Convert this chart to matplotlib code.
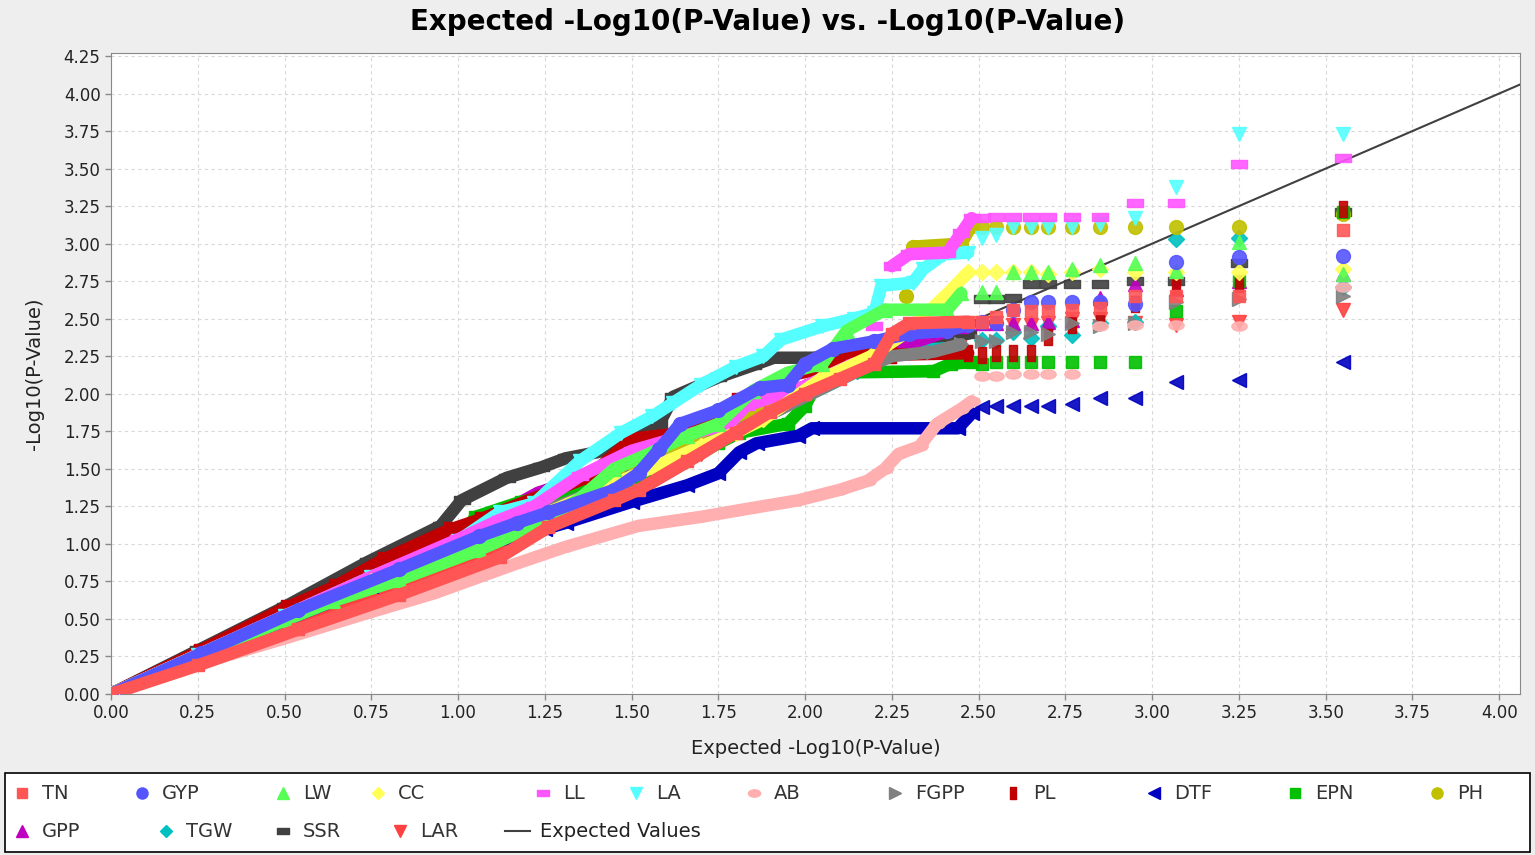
import numpy as np
import matplotlib
matplotlib.use("Agg")
import matplotlib.pyplot as plt
from matplotlib.path import Path
from matplotlib.transforms import Affine2D
from matplotlib.lines import Line2D
from matplotlib.patches import Rectangle

plt.rcParams['font.family'] = ['DejaVu Sans']

nan = np.nan

# expected -log10(p) of the top ranks (discrete points at the right)
tail_x = [3.55, 3.25, 3.07, 2.95, 2.85, 2.77, 2.70, 2.65, 2.60, 2.55, 2.51]

# dense part of each trait, plus top-rank values
tn_x = [0, .25, .54, .83, 1.12, 1.26, 1.45, 1.52, 1.66, 1.80, 1.90, 2.00, 2.10, 2.20, 2.25, 2.30, 2.47]
tn_y = [0, .19, .43, .66, .91, 1.11, 1.29, 1.36, 1.55, 1.74, 1.88, 2.00, 2.10, 2.20, 2.40, 2.47, 2.48]
tn_tail = [3.09, 2.65, 2.65, 2.65, 2.57, 2.56, 2.55, 2.55, 2.56, 2.51, 2.48]

gyp_x = [0, .26, .54, .83, 1.06, 1.17, 1.26, 1.45, 1.52, 1.58, 1.64, 1.75, 1.87, 1.95, 2.00, 2.08, 2.20, 2.30, 2.41, 2.47]
gyp_y = [0, .27, .56, .83, 1.05, 1.14, 1.21, 1.36, 1.47, 1.63, 1.80, 1.89, 2.04, 2.06, 2.20, 2.30, 2.35, 2.40, 2.42, 2.46]
gyp_tail = [2.92, 2.91, 2.88, 2.60, 2.61, 2.61, 2.61, 2.61, 2.56, 2.47, 2.48]

lw_x = [0, .25, .50, .64, .83, 1.06, 1.21, 1.35, 1.45, 1.55, 1.66, 1.75, 1.85, 1.95, 2.05, 2.12, 2.23, 2.41, 2.45]
lw_y = [0, .25, .49, .62, .76, .96, 1.11, 1.30, 1.50, 1.60, 1.72, 1.80, 2.02, 2.14, 2.20, 2.42, 2.56, 2.56, 2.67]
lw_tail = [2.80, 3.01, 2.82, 2.87, 2.86, 2.83, 2.81, 2.81, 2.81, 2.68, 2.68]

cc_x = [0, .25, .50, .75, 1.00, 1.25, 1.45, 1.56, 1.70, 1.80, 1.88, 2.04, 2.19, 2.30, 2.42, 2.47]
cc_y = [0, .26, .51, .75, .97, 1.20, 1.40, 1.51, 1.65, 1.74, 1.83, 2.09, 2.25, 2.42, 2.69, 2.81]
cc_tail = [2.83, 2.81, 2.81, 2.81, 2.83, 2.81, 2.80, 2.81, 2.81, 2.81, 2.81]

ll_x = [0, .25, .50, .75, 1.00, 1.12, 1.22, 1.35, 1.50, 1.65, 1.78, 1.83, 2.00, 2.14, nan, 2.20, nan, 2.25, 2.30, 2.41, 2.45, 2.48]
ll_y = [0, .26, .52, .78, 1.03, 1.16, 1.25, 1.45, 1.62, 1.72, 1.80, 1.92, 2.05, 2.20, nan, 2.45, nan, 2.85, 2.93, 2.94, 3.07, 3.17]
ll_tail = [3.57, 3.53, 3.27, 3.27, 3.18, 3.18, 3.18, 3.18, 3.18, 3.18, 3.17]

la_x = [0, .25, .50, .75, 1.00, 1.12, 1.22, 1.35, 1.47, 1.56, 1.62, 1.70, 1.80, 1.88, 1.93, 2.05, 2.14, 2.20, 2.22, 2.31, 2.34, 2.40, 2.47]
la_y = [0, .26, .52, .78, 1.02, 1.21, 1.27, 1.55, 1.74, 1.85, 1.94, 2.06, 2.18, 2.25, 2.36, 2.45, 2.50, 2.54, 2.72, 2.74, 2.83, 2.93, 2.94]
la_tail = [3.73, 3.73, 3.38, 3.17, 3.13, 3.11, 3.11, 3.11, 3.11, 3.06, 3.04]

ab_x = [0, .25, .50, .74, .93, 1.17, 1.31, 1.52, 1.70, 1.85, 1.98, 2.10, 2.18, 2.23, 2.27, 2.33, 2.38, 2.45, 2.48]
ab_y = [0, .20, .37, .54, .67, .87, .98, 1.12, 1.18, 1.24, 1.29, 1.36, 1.42, 1.50, 1.60, 1.65, 1.80, 1.90, 1.95]
ab_tail = [2.71, 2.45, 2.46, 2.46, 2.45, 2.13, 2.13, 2.13, 2.13, 2.12, 2.12]

fgpp_x = [0, .50, 1.00, 1.50, 1.80, 2.00, 2.15, 2.25, 2.37, 2.45]
fgpp_y = [0, .50, .98, 1.45, 1.75, 1.98, 2.15, 2.25, 2.28, 2.33]
fgpp_tail = [2.65, 2.63, 2.61, 2.47, 2.45, 2.47, 2.40, 2.41, 2.41, 2.35, 2.35]

pl_x = [0, .25, .50, .64, .78, .97, 1.06, 1.38, 1.50, 1.65, 1.80, 1.95, 2.05, 2.15, 2.25, 2.47]
pl_y = [0, .28, .57, .71, .89, 1.09, 1.16, 1.45, 1.70, 1.74, 1.95, 2.12, 2.17, 2.26, 2.26, 2.27]
pl_tail = [3.23, 2.73, 2.71, 2.60, 2.49, 2.46, 2.38, 2.27, 2.27, 2.27, 2.26]

dtf_x = [0, .25, .50, .75, 1.00, 1.25, 1.31, 1.50, 1.66, 1.75, 1.81, 1.86, 1.98, 2.02, 2.44, 2.48]
dtf_y = [0, .24, .49, .72, .95, 1.10, 1.14, 1.28, 1.39, 1.47, 1.61, 1.67, 1.72, 1.77, 1.77, 1.87]
dtf_tail = [2.21, 2.09, 2.08, 1.97, 1.97, 1.93, 1.92, 1.92, 1.92, 1.92, 1.91]

epn_x = [0, .25, .50, .75, 1.00, 1.05, 1.18, 1.30, 1.50, 1.65, 1.75, 1.81, 1.95, 2.00, 2.05, 2.37, 2.42, 2.48]
epn_y = [0, .26, .51, .76, 1.02, 1.18, 1.28, 1.33, 1.42, 1.55, 1.67, 1.74, 1.80, 1.92, 2.14, 2.15, 2.20, 2.21]
epn_tail = [3.21, 2.75, 2.55, 2.21, 2.21, 2.21, 2.21, 2.21, 2.21, 2.21, 2.20]

ph_x = [0, .50, 1.00, 1.50, 1.80, 2.00, 2.20, nan, 2.29, nan, 2.31, 2.45, 2.48]
ph_y = [0, .50, 1.00, 1.50, 1.82, 2.02, 2.25, nan, 2.65, nan, 2.98, 3.00, 3.12]
ph_tail = [3.20, 3.11, 3.11, 3.11, 3.11, 3.11, 3.11, 3.11, 3.11, 3.11, 3.11]

gpp_x = [0, .50, 1.00, 1.23, 1.50, 1.80, 2.00, 2.20, 2.45]
gpp_y = [0, .50, 1.05, 1.34, 1.55, 1.85, 2.05, 2.25, 2.45]
gpp_tail = [2.80, 2.75, 2.70, 2.73, 2.64, 2.49, 2.48, 2.47, 2.47, 2.47, 2.47]

tgw_x = [0, .50, 1.00, 1.50, 1.80, 2.00, 2.15, 2.25, 2.45]
tgw_y = [0, .50, .98, 1.45, 1.75, 1.98, 2.15, 2.28, 2.31]
tgw_tail = [2.71, 3.04, 3.03, 2.48, 2.47, 2.39, 2.45, 2.37, 2.41, 2.36, 2.36]

ssr_x = [0, .25, .50, .74, .95, 1.01, 1.14, 1.24, 1.31, 1.40, 1.50, 1.58, 1.62, 1.75, 1.85, 1.91, 2.02, 2.16, 2.21, 2.37, 2.40, 2.47]
ssr_y = [0, .29, .58, .88, 1.12, 1.29, 1.44, 1.51, 1.57, 1.61, 1.68, 1.80, 1.98, 2.11, 2.19, 2.24, 2.24, 2.25, 2.29, 2.30, 2.39, 2.40]
ssr_tail = [3.21, 2.87, 2.75, 2.75, 2.73, 2.73, 2.73, 2.73, 2.64, 2.63, 2.63]

lar_x = [0, .25, .54, .83, 1.12, 1.30, 1.50, 1.70, 1.85, 2.00, 2.15, 2.27, 2.45]
lar_y = [0, .22, .47, .70, .95, 1.15, 1.33, 1.60, 1.82, 2.02, 2.17, 2.33, 2.36]
lar_tail = [2.56, 2.48, 2.46, 2.47, 2.50, 2.50, 2.47, 2.46, 2.46, 2.47, 2.47]

exp_x = [0, 4.06]
exp_y = [0, 4.06]

names = ['TN', 'GYP', 'LW', 'CC', 'LL', 'LA', 'AB', 'FGPP', 'PL', 'DTF',
         'EPN', 'PH', 'GPP', 'TGW', 'SSR', 'LAR']

# marker shapes
hrect = Path([(-1, -0.5), (1, -0.5), (1, 0.5), (-1, 0.5), (-1, -0.5)],
             [Path.MOVETO, Path.LINETO, Path.LINETO, Path.LINETO, Path.CLOSEPOLY])
vrect = Path([(-0.5, -1), (0.5, -1), (0.5, 1), (-0.5, 1), (-0.5, -1)],
             [Path.MOVETO, Path.LINETO, Path.LINETO, Path.LINETO, Path.CLOSEPOLY])
ellipse = Path.unit_circle().transformed(Affine2D().scale(1.0, 0.6))

series = [
    (tn_x, tn_y, tn_tail, '#FF5555', 's', 9),
    (gyp_x, gyp_y, gyp_tail, '#5555FF', 'o', 10),
    (lw_x, lw_y, lw_tail, '#55FF55', '^', 10),
    (cc_x, cc_y, cc_tail, '#FFFF55', 'D', 8),
    (ll_x, ll_y, ll_tail, '#FF55FF', hrect, 11),
    (la_x, la_y, la_tail, '#55FFFF', 'v', 10),
    (ab_x, ab_y, ab_tail, '#FFAFAF', ellipse, 11),
    (fgpp_x, fgpp_y, fgpp_tail, '#808080', '>', 10),
    (pl_x, pl_y, pl_tail, '#C00000', vrect, 11),
    (dtf_x, dtf_y, dtf_tail, '#0000C0', '<', 10),
    (epn_x, epn_y, epn_tail, '#00C000', 's', 9),
    (ph_x, ph_y, ph_tail, '#C0C000', 'o', 10),
    (gpp_x, gpp_y, gpp_tail, '#C000C0', '^', 10),
    (tgw_x, tgw_y, tgw_tail, '#00C0C0', 'D', 8),
    (ssr_x, ssr_y, ssr_tail, '#404040', hrect, 11),
    (lar_x, lar_y, lar_tail, '#FF4040', 'v', 10),
]

fig = plt.figure(figsize=(15.35, 8.55), dpi=100)
fig.patch.set_facecolor('#eeeeee')
ax = fig.add_axes([111 / 1535, 1 - 694 / 855, 1409 / 1535, 641 / 855])
ax.set_facecolor('white')

for i, (dx, dy, tail, col, mk, ms) in enumerate(series):
    z = 40 - i
    ax.plot(dx, dy, '-', color=col, lw=9, solid_capstyle='round', zorder=z)
    ax.plot(dx, dy, linestyle='none', marker=mk, ms=ms, color=col, mec=col, zorder=z)
    ax.plot(tail_x, tail, linestyle='none', marker=mk, ms=ms, color=col,
            mec=col, alpha=0.9, zorder=z)

# expected values line sits under the points
ax.plot(exp_x, exp_y, color='#404040', lw=1.5, zorder=5)

ax.set_xlim(0, 4.06)
ax.set_ylim(0, 4.27)
ax.set_xticks(np.arange(0, 4.01, 0.25))
ax.set_yticks(np.arange(0, 4.26, 0.25))
ax.xaxis.set_major_formatter(matplotlib.ticker.FormatStrFormatter('%.2f'))
ax.yaxis.set_major_formatter(matplotlib.ticker.FormatStrFormatter('%.2f'))
ax.tick_params(labelsize=12, labelcolor='#222222', color='#888888', length=4, width=1)
for s in ax.spines.values():
    s.set_color('#888888')
ax.grid(True, color='#d8d8d8', linestyle=(0, (3, 3)), lw=0.8)
ax.set_axisbelow(True)

ax.set_xlabel('Expected -Log10(P-Value)', fontsize=14, color='#222222', labelpad=12)
ax.set_ylabel('-Log10(P-Value)', fontsize=14, color='#222222', labelpad=14)
fig.text(0.5, 1 - 22 / 855, 'Expected -Log10(P-Value) vs. -Log10(P-Value)',
         ha='center', va='center', fontsize=20, fontweight='bold')

# legend box drawn by hand so the two rows flow like the original
fig.add_artist(Rectangle((5 / 1535, 1 - 852 / 855), 1525 / 1535, 79 / 855,
                         transform=fig.transFigure, facecolor='white',
                         edgecolor='black', lw=1.2))
leg_rows = [
    (793, [(0, 22), (1, 142), (2, 283), (3, 378), (4, 543), (5, 636), (6, 754),
           (7, 895), (8, 1013), (9, 1154), (10, 1295), (11, 1437)]),
    (831, [(12, 22), (13, 166), (14, 283), (15, 400)]),
]
for ypx, items in leg_rows:
    yf = 1 - ypx / 855
    for idx, xpx in items:
        col, mk, ms = series[idx][3], series[idx][4], series[idx][5]
        fig.add_artist(Line2D([xpx / 1535], [yf], marker=mk, ms=ms * 0.8, color=col,
                              mec=col, linestyle='none', transform=fig.transFigure))
        fig.text((xpx + 20) / 1535, yf, names[idx], fontsize=14, color='#333333',
                 va='center', ha='left')
yf = 1 - 831 / 855
fig.add_artist(Line2D([505 / 1535, 530 / 1535], [yf, yf], color='#404040', lw=1.5,
                      transform=fig.transFigure))
fig.text(540 / 1535, yf, 'Expected Values', fontsize=14, color='#222222',
         va='center', ha='left')

fig.savefig('out.png', dpi=100, facecolor=fig.get_facecolor())
